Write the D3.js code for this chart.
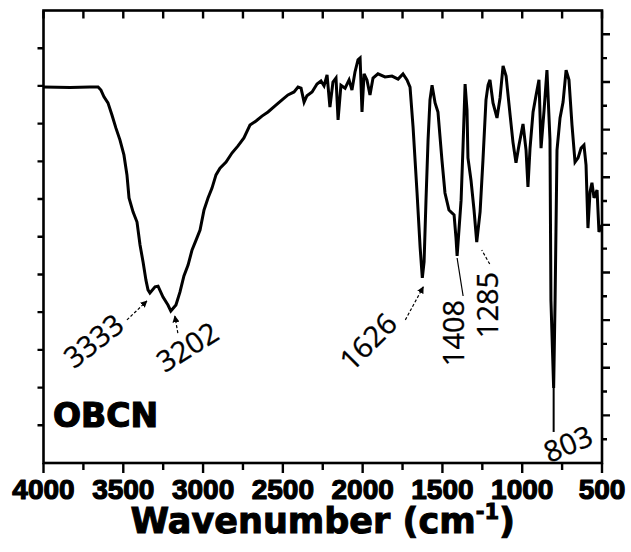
<!DOCTYPE html>
<html>
<head>
<meta charset="utf-8">
<script src="https://d3js.org/d3.v7.min.js"></script>
<style>
	body { margin: 0; background: #fff; }
</style>
</head>
<body>
<div class="canvas"></div>
<script>
// spectrum data
const wavenumber = [
	4000, 3834, 3709, 3658, 3640, 3621, 3596, 3571, 3546, 3521,
	3496, 3477, 3464, 3439, 3414, 3395, 3376, 3358, 3345, 3333,
	3301, 3282, 3251, 3220, 3202, 3170, 3145, 3120, 3094, 3069,
	3044, 3019, 2994, 2969, 2944, 2919, 2894, 2856, 2819, 2781,
	2744, 2706, 2668, 2631, 2593, 2549, 2505, 2468, 2430, 2405,
	2386, 2367, 2349, 2317, 2286, 2261, 2242, 2223, 2205, 2186,
	2167, 2154, 2136, 2110, 2085, 2067, 2048, 2029, 2016, 2004,
	1991, 1973, 1954, 1935, 1904, 1860, 1816, 1778, 1747, 1722,
	1703, 1684, 1659, 1640, 1626, 1615, 1603, 1590, 1578, 1565,
	1546, 1528, 1503, 1484, 1459, 1427, 1415, 1408, 1383, 1371,
	1358, 1346, 1340, 1321, 1302, 1285, 1264, 1246, 1227, 1214,
	1202, 1183, 1158, 1139, 1120, 1101, 1076, 1058, 1039, 1020,
	995, 976, 964, 951, 932, 913, 895, 882, 863, 845,
	826, 820, 803, 794, 782, 763, 744, 725, 707, 688,
	669, 650, 631, 613, 600, 588, 575, 563, 550, 531,
	519, 500
];

const transmittance = [
	99.7, 99.6, 99.7, 99.7, 98.9, 97.1, 95.5, 92.3, 88.8, 85.7,
	81.7, 76.4, 70.3, 66.6, 63.9, 57.8, 53.3, 48.5, 45.9, 45.1,
	46.7, 46.9, 44.0, 41.9, 40.3, 41.9, 45.3, 49.6, 52.5, 56.5,
	59.1, 61.8, 67.1, 70.3, 72.9, 76.4, 78.2, 79.8, 82.2, 84.1,
	86.2, 89.6, 90.7, 92.0, 93.1, 94.7, 96.3, 97.6, 98.4, 99.7,
	99.4, 95.7, 97.4, 98.4, 100.5, 101.3, 100.0, 102.9, 94.4, 101.0,
	102.1, 91.0, 100.2, 99.4, 101.6, 98.9, 103.7, 106.9, 107.4, 93.1,
	103.2, 101.6, 97.6, 102.1, 103.2, 102.4, 102.6, 101.8, 103.2, 101.6,
	99.7, 89.1, 71.6, 57.3, 49.1, 53.3, 69.7, 85.7, 96.3, 100.2,
	95.5, 93.1, 80.3, 71.6, 67.1, 65.8, 59.7, 54.9, 69.7, 83.8,
	100.5, 93.6, 80.9, 75.0, 67.1, 58.6, 66.6, 80.3, 96.3, 100.2,
	101.6, 95.5, 91.5, 96.8, 105.3, 102.6, 92.3, 85.1, 79.6, 84.3,
	89.9, 83.0, 73.2, 83.5, 93.1, 97.6, 101.6, 83.5, 93.6, 104.2,
	85.7, 43.2, 19.9, 43.2, 83.0, 91.5, 95.7, 104.2, 101.6, 89.6,
	79.8, 80.9, 83.5, 84.3, 79.0, 62.3, 71.9, 74.3, 70.3, 72.4,
	61.3, 63.1
];

// labelled bands
const peaks = [3333, 3202, 1626, 1408, 1285, 803];

const xTicks = [4000, 3500, 3000, 2500, 2000, 1500, 1000, 500];
const xMinorTicks = [3750, 3250, 2750, 2250, 1750, 1250, 750];

// label placement relative to each band minimum (px)
const peakLayout = {
	3333: {dx: -57, dy: 47, rot: -38, line: [-23, 27, -3, 8], dash: true, arrow: true},
	3202: {dx: 16, dy: 35, rot: -32, line: [7, 22, 4, 5], dash: true, arrow: true},
	1626: {dx: -55, dy: 63, rot: -45, line: [-17, 42, 1, 9], dash: true, arrow: true},
	1408: {dx: -5, dy: 77, rot: -90, line: [0, 2, 6, 40], dash: false, arrow: false},
	1285: {dx: 10, dy: 63, rot: -90, line: [13, 22, 5, 8], dash: true, arrow: false},
	803: {dx: 14, dy: 55, rot: -23, line: [0, 0, 0, 44], dash: false, arrow: false}
};

const dims = {width: 631, height: 552};
const margin = {left: 43.5, right: 29, top: 10.5, bottom: 89};

const svg = d3.select('.canvas')
	.append('svg')
	.attr('width', dims.width)
	.attr('height', dims.height);

const x = d3.scaleLinear()
	.domain([4000, 500])
	.range([margin.left, dims.width - margin.right]);

const y = d3.scaleLinear()
	.domain([0, 120])
	.range([dims.height - margin.bottom, margin.top]);

// right axis has its own finer tick spacing
const yRight = d3.scaleLinear()
	.domain([0, 19])
	.range([dims.height - margin.bottom, margin.top]);

const x0 = x.range()[0], x1 = x.range()[1];
const y0 = y.range()[0], y1 = y.range()[1];

const data = d3.zip(wavenumber, transmittance);

// spectrum
svg.append('path')
	.datum(data)
	.attr('fill', 'none')
	.attr('stroke', '#000')
	.attr('stroke-width', 3)
	.attr('stroke-linejoin', 'miter')
	.attr('d', d3.line()
		.x(d => x(d[0]))
		.y(d => y(d[1])));

// frame
svg.append('rect')
	.attr('x', x0)
	.attr('y', y1)
	.attr('width', x1 - x0)
	.attr('height', y0 - y1)
	.attr('fill', 'none')
	.attr('stroke', '#000')
	.attr('stroke-width', 2.6);

// tick marks, one path per side
const allX = xTicks.concat(xMinorTicks);

const tickPath = svg.append('path')
	.attr('fill', 'none')
	.attr('stroke', '#000')
	.attr('stroke-width', 2.4)
	.attr('d', [
		// bottom, outward
		...allX.map(d => `M${x(d)},${y0}V${y0 + (xTicks.includes(d) ? 10 : 7)}`),
		// top, inward
		...allX.map(d => `M${x(d)},${y1}V${y1 + 8}`),
		// left, outward
		...d3.range(10, 120, 10).map(d => `M${x0 - 6},${y(d)}H${x0}`),
		// right, outward with alternating length
		...d3.range(1, 19).map(d => `M${x1},${yRight(d)}H${x1 + (d % 2 === 0 ? 8 : 5)}`)
	].join(''));

// tick labels
svg.append('g')
	.selectAll('text')
	.data(xTicks)
	.enter()
	.append('text')
		.attr('x', d => x(d))
		.attr('y', 499)
		.attr('text-anchor', 'middle')
		.attr('font-family', '"Liberation Sans", Arial, sans-serif')
		.attr('font-weight', 'bold')
		.attr('font-size', 28)
		.attr('stroke', '#000')
		.attr('stroke-width', 1.2)
		.attr('stroke-linejoin', 'round')
		.text(d => d);

// axis title
const title = svg.append('text')
	.attr('x', (x0 + x1) / 2)
	.attr('y', 533)
	.attr('text-anchor', 'middle')
	.attr('font-family', '"DejaVu Sans", sans-serif')
	.attr('font-weight', 'bold')
	.attr('font-size', 35)
	.attr('stroke', '#000')
	.attr('stroke-width', 1);
title.append('tspan').text('Wavenumber (cm');
title.append('tspan')
	.attr('font-size', 21)
	.attr('dy', -14)
	.text('-1');
title.append('tspan')
	.attr('dy', 14)
	.text(')');

// sample name
svg.append('text')
	.attr('x', 53)
	.attr('y', 427)
	.attr('font-family', '"DejaVu Sans", sans-serif')
	.attr('font-weight', 'bold')
	.attr('font-size', 33)
	.attr('stroke', '#000')
	.attr('stroke-width', 1.2)
	.text('OBCN');

// arrow marker
svg.append('defs')
	.append('marker')
		.attr('id', 'arrow')
		.attr('viewBox', '0 0 10 10')
		.attr('refX', 9)
		.attr('refY', 5)
		.attr('markerWidth', 7)
		.attr('markerHeight', 7)
		.attr('markerUnits', 'userSpaceOnUse')
		.attr('orient', 'auto')
	.append('path')
		.attr('d', 'M0,0 L10,5 L0,10 z')
		.attr('fill', '#000');

// band annotations
const lookup = new Map(data);

const notes = svg.append('g')
	.selectAll('g')
	.data(peaks)
	.enter()
	.append('g')
		.attr('transform', d => `translate(${x(d)}, ${y(lookup.get(d))})`);

notes.append('line')
	.attr('x1', d => peakLayout[d].line[0])
	.attr('y1', d => peakLayout[d].line[1])
	.attr('x2', d => peakLayout[d].line[2])
	.attr('y2', d => peakLayout[d].line[3])
	.attr('stroke', '#000')
	.attr('stroke-width', d => d === 803 ? 2 : 1.2)
	.attr('stroke-dasharray', d => peakLayout[d].dash ? '3,2' : null)
	.attr('marker-end', d => peakLayout[d].arrow ? 'url(#arrow)' : null);

notes.append('text')
	.attr('transform', d => `translate(${peakLayout[d].dx}, ${peakLayout[d].dy}) rotate(${peakLayout[d].rot})`)
	.attr('text-anchor', 'middle')
	.attr('dominant-baseline', 'central')
	.attr('font-family', '"Open Sans", sans-serif')
	.attr('font-size', 29)
	.attr('stroke', '#000')
	.attr('stroke-width', 0.3)
	.attr('fill', '#000')
	.text(d => d);
</script>
</body>
</html>
